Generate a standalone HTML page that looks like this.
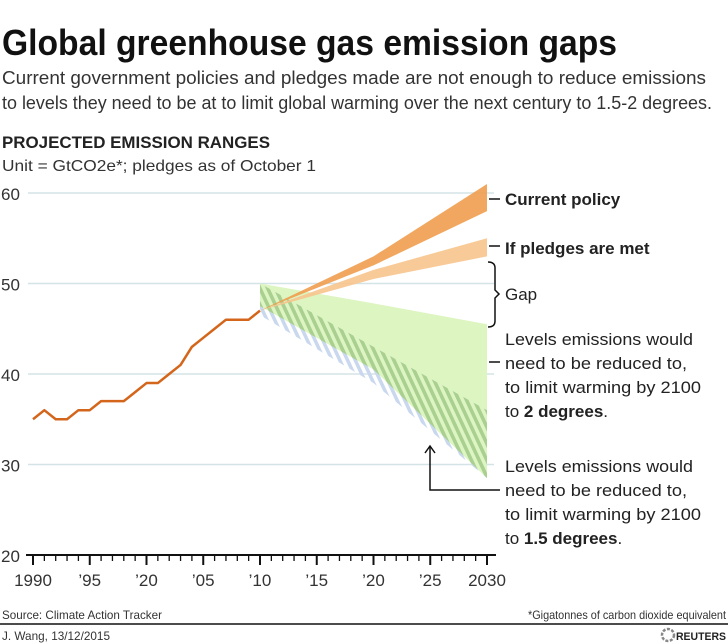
<!DOCTYPE html>
<html><head><meta charset="utf-8"><style>
html,body{margin:0;padding:0;background:#fff;}
svg{display:block;font-family:"Liberation Sans",sans-serif;}
</style></head><body>
<svg id="chart" width="728" height="644" viewBox="0 0 728 644" xmlns="http://www.w3.org/2000/svg">
<defs>
<pattern id="hatchG" patternUnits="userSpaceOnUse" width="7" height="7" patternTransform="rotate(-25)">
<rect width="3.5" height="7" fill="#a9d08e"/></pattern>
<pattern id="hatchB" patternUnits="userSpaceOnUse" width="7" height="7" patternTransform="rotate(-25)">
<rect width="3.5" height="7" fill="#c9d8ee"/></pattern>
<clipPath id="greenClip"><polygon id="greenClipPoly"/></clipPath>
</defs>
<text x="2" y="55" font-size="36" font-weight="bold" fill="#111" textLength="615" lengthAdjust="spacingAndGlyphs">Global greenhouse gas emission gaps</text>
<text x="2" y="84" font-size="18" fill="#333" textLength="704" lengthAdjust="spacingAndGlyphs">Current government policies and pledges made are not enough to reduce emissions</text>
<text x="2" y="109" font-size="18" fill="#333" textLength="710" lengthAdjust="spacingAndGlyphs">to levels they need to be at to limit global warming over the next century to 1.5-2 degrees.</text>
<text x="2" y="148" font-size="17" font-weight="bold" fill="#222" textLength="268" lengthAdjust="spacingAndGlyphs">PROJECTED EMISSION RANGES</text>
<text x="2" y="171" font-size="16" fill="#333" textLength="314" lengthAdjust="spacingAndGlyphs">Unit = GtCO2e*; pledges as of October 1</text>
<g id="grid"></g>
<g id="areas"></g>
<g id="lineLayer"></g>
<g id="axis"></g>
<g font-size="17" fill="#222">
<line x1="489" y1="199" x2="500" y2="199" stroke="#111" stroke-width="1.5"/>
<text x="505" y="205" font-weight="bold">Current policy</text>
<line x1="489" y1="246" x2="500" y2="246" stroke="#111" stroke-width="1.5"/>
<text x="505" y="254" font-weight="bold">If pledges are met</text>
<path d="M488,262 Q495,262 495,268 L495,290 L499,294 L495,298 L495,321 Q495,327 488,327" fill="none" stroke="#111" stroke-width="1.5"/>
<text x="505" y="300">Gap</text>
<line x1="489" y1="362" x2="500" y2="362" stroke="#111" stroke-width="1.5"/>
<g>
<text x="505" y="345" textLength="188" lengthAdjust="spacingAndGlyphs">Levels emissions would</text>
<text x="505" y="369" textLength="182" lengthAdjust="spacingAndGlyphs">need to be reduced to,</text>
<text x="505" y="393" textLength="196" lengthAdjust="spacingAndGlyphs">to limit warming by 2100</text>
<text x="505" y="417">to <tspan font-weight="bold">2 degrees</tspan>.</text>
</g>
<path d="M430,447 L430,490 L500,490" fill="none" stroke="#111" stroke-width="1.5"/>
<path d="M425,453 L430,446 L435,453" fill="none" stroke="#111" stroke-width="1.5"/>
<g>
<text x="505" y="472" textLength="188" lengthAdjust="spacingAndGlyphs">Levels emissions would</text>
<text x="505" y="496" textLength="182" lengthAdjust="spacingAndGlyphs">need to be reduced to,</text>
<text x="505" y="520" textLength="196" lengthAdjust="spacingAndGlyphs">to limit warming by 2100</text>
<text x="505" y="544">to <tspan font-weight="bold">1.5 degrees</tspan>.</text>
</g>
</g>
<text x="2" y="619" font-size="12" fill="#333" textLength="160" lengthAdjust="spacingAndGlyphs">Source: Climate Action Tracker</text>
<text x="726" y="619" font-size="12" fill="#333" text-anchor="end" textLength="198" lengthAdjust="spacingAndGlyphs">*Gigatonnes of carbon dioxide equivalent</text>
<line x1="0" y1="624" x2="728" y2="624" stroke="#111" stroke-width="1.5"/>
<text x="2" y="640" font-size="12" fill="#333" textLength="108" lengthAdjust="spacingAndGlyphs">J. Wang, 13/12/2015</text>
<g>
<circle cx="668" cy="635" r="6" fill="none" stroke="#888" stroke-width="2.5" stroke-dasharray="3 1.5"/>
<text x="726" y="640" font-size="11" font-weight="bold" fill="#222" text-anchor="end" textLength="50" lengthAdjust="spacingAndGlyphs">REUTERS</text>
</g>
</svg>
<script>
const years=[1990,1991,1992,1993,1994,1995,1996,1997,1998,1999,2000,2001,2002,2003,2004,2005,2006,2007,2008,2009,2010];
const emissions=[35,36,35,35,36,36,37,37,37,38,39,39,40,41,43,44,45,46,46,46,47];
const yTicks=[20,30,40,50,60];
const xTickLabels=["1990","’95","’20","’05","’10","’15","’20","’25","2030"];
const xTickYears=[1990,1995,2000,2005,2010,2015,2020,2025,2030];
const projYears=[2010,2020,2030];
const policyTop=[47,53,61];
const policyBottom=[47,52,58];
const pledgeTop=[47,51.5,55];
const pledgeBottom=[47,50.5,53];
const twoDegYears=[2010,2020,2030];
const twoDegTop=[50,47.8,45.5];
const twoDegBottom=[47.5,40.5,28.5];
const hatchYears=[2010,2020,2030];
const hatchTop=[50,43,36];
const hatchBottom=[46.5,39,28.5];

const NS="http://www.w3.org/2000/svg";
function X(yr){return 33+(yr-1990)*(454/40);}
function Y(v){return 555-(v-20)*9.05;}
function mk(tag,attrs,parent){const e=document.createElementNS(NS,tag);for(const k in attrs)e.setAttribute(k,attrs[k]);parent.appendChild(e);return e;}
function band(xs,top,bot){const p=[];xs.forEach((x,i)=>p.push(X(x)+","+Y(top[i])));for(let i=xs.length-1;i>=0;i--)p.push(X(xs[i])+","+Y(bot[i]));return p.join(" ");}

const grid=document.getElementById('grid');
yTicks.forEach(t=>{
  if(t>20){const l=mk('line',{x1:28,x2:494,y1:Y(t),y2:Y(t),stroke:'#d3e3e6','stroke-width':1.5},grid);
  
  }
  const tx=mk('text',{x:1,y:Y(t)+7,'font-size':17,fill:'#333'},grid);
  tx.textContent=t;
  
  
});

const areas=document.getElementById('areas');
document.getElementById('greenClipPoly').setAttribute('points',band(twoDegYears,twoDegTop,twoDegBottom));
const g2=mk('polygon',{points:band(twoDegYears,twoDegTop,twoDegBottom),fill:'#ddf5c0'},areas);


const hb=mk('polygon',{points:band(hatchYears,hatchTop,hatchBottom),fill:'url(#hatchB)'},areas);


const hg=mk('polygon',{points:band(hatchYears,hatchTop,hatchBottom),fill:'url(#hatchG)','clip-path':'url(#greenClip)'},areas);


const pl=mk('polygon',{points:band(projYears,pledgeTop,pledgeBottom),fill:'#f7c48d',opacity:0.9},areas);


const cp=mk('polygon',{points:band(projYears,policyTop,policyBottom),fill:'#ef9d4e',opacity:0.9},areas);



const lineLayer=document.getElementById('lineLayer');
const hist=mk('polyline',{points:years.map((y,i)=>X(y)+","+Y(emissions[i])).join(" "),fill:'none',stroke:'#d4661c','stroke-width':2.5,'stroke-linejoin':'round'},lineLayer);



const axis=document.getElementById('axis');
const base=mk('line',{x1:26,x2:496,y1:555,y2:555,stroke:'#111','stroke-width':2},axis);


for(let yr=1990;yr<=2030;yr++){
  const major=(yr%5===0);
  mk('line',{x1:X(yr),x2:X(yr),y1:555,y2:major?565:561,stroke:'#111','stroke-width':major?2:1.3},axis);
}
xTickYears.forEach((yr,i)=>{
  const t=mk('text',{x:X(yr),y:586,'font-size':17,fill:'#333','text-anchor':'middle'},axis);
  t.textContent=xTickLabels[i];
  
  
});
</script>
</body></html>
